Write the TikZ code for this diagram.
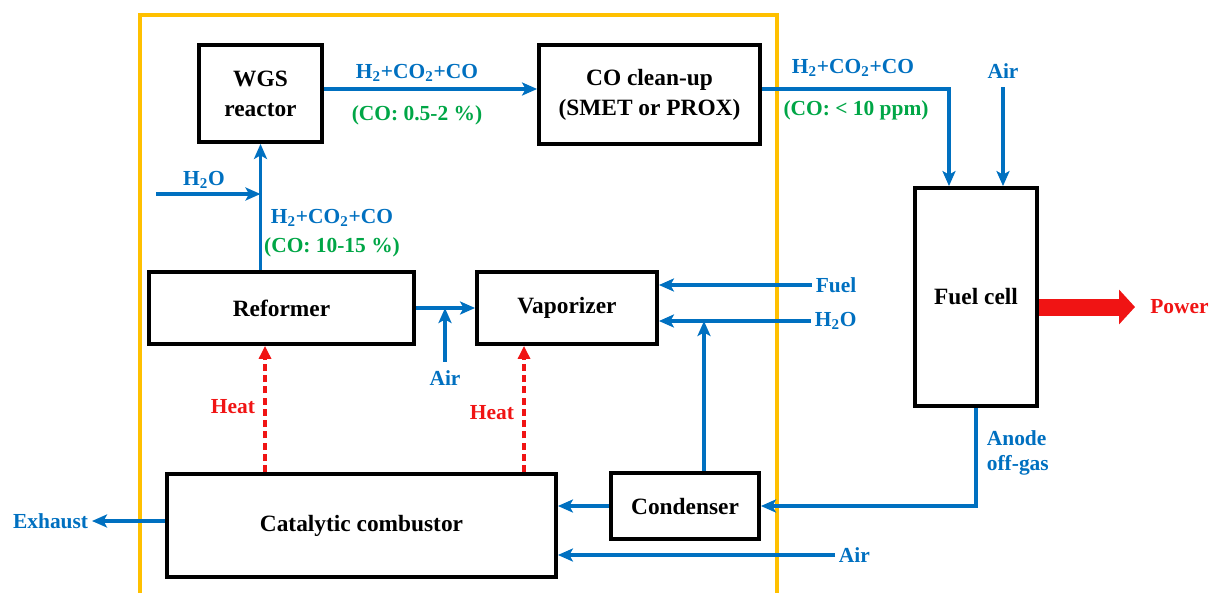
\documentclass[tikz,border=0pt]{standalone}
\usepackage{fontspec}
\setmainfont{Liberation Serif}
\usetikzlibrary{arrows.meta}
\definecolor{flowblue}{RGB}{0,112,192}
\definecolor{notegreen}{RGB}{0,166,70}
\definecolor{heatred}{RGB}{240,20,20}
\definecolor{frameorange}{RGB}{255,192,0}

\begin{document}
\begin{tikzpicture}[
    x=0.02cm, y=-0.02cm,
    unit/.style={rectangle, draw, line width=2.2pt, align=center, font=\fontsize{13.3}{17}\selectfont\bfseries, inner sep=0pt},
    flow/.style={draw=flowblue, line width=2pt, -{Stealth[length=0.3cm, width=0.26cm, inset=0.07cm]}},
    heat/.style={draw=heatred, line width=1.8pt, dash pattern=on 4pt off 2.4pt, -{Triangle[length=0.26cm, width=0.24cm]}},
    lbl/.style={font=\fontsize{12.2}{14.5}\selectfont\bfseries, text=flowblue, inner sep=2pt},
    note/.style={lbl, text=notegreen},
    hot/.style={lbl, text=heatred}
]
    \useasboundingbox (0,0) rectangle (1217,592);
    \draw [frameorange, line width=1.9pt] (140,600) -- (140,15) -- (777,15) -- (777,600);

    % units
    \node [unit, minimum width=2.46cm, minimum height=1.94cm] (wgs) at (260.5,93.5) {WGS\\reactor};
    \node [unit, minimum width=4.42cm, minimum height=1.98cm] (clean) at (649.5,94.5) {CO clean-up\\(SMET or PROX)};
    \node [unit, minimum width=5.3cm, minimum height=1.44cm] (reformer) at (281.5,308) {Reformer};
    \node [unit, minimum width=3.6cm, minimum height=1.44cm] (vapor) at (567,308) {Vaporizer};
    \node [unit, minimum width=7.78cm, minimum height=2.06cm] (comb) at (361.5,525.5) {Catalytic combustor};
    \node [unit, minimum width=2.96cm, minimum height=1.32cm] (cond) at (685,506) {Condenser};
    \node [unit, minimum width=2.44cm, minimum height=4.36cm] (fc) at (976,297) {Fuel cell};

    % labels
    \node [lbl] at (417,73) {H\textsubscript{2}+CO\textsubscript{2}+CO};
    \node [note] at (417,115) {(CO: 0.5-2 \%)};
    \node [lbl] at (853,68) {H\textsubscript{2}+CO\textsubscript{2}+CO};
    \node [note] at (856,110) {(CO: < 10 ppm)};
    \node [lbl] at (332,218) {H\textsubscript{2}+CO\textsubscript{2}+CO};
    \node [note] at (332,247) {(CO: 10-15 \%)};
    \node [lbl] at (204,180) {H\textsubscript{2}O};
    \node [lbl, align=left, anchor=west] at (983,453) {Anode\\off-gas};
    \node [hot] at (233,407) {Heat};
    \node [hot] at (492,413) {Heat};

    % feed and product ends
    \coordinate (h2oA) at (156,194);
    \node [lbl] (airfc) at (1003,71) {Air};
    \node [lbl] (airref) at (445,378) {Air};
    \node [lbl, anchor=west] (fuel) at (812,285) {Fuel};
    \node [lbl, anchor=west] (h2oB) at (811,321) {H\textsubscript{2}O};
    \node [lbl, anchor=west] (aircomb) at (835,555) {Air};
    \node [lbl, anchor=east] (exhaust) at (92,521) {Exhaust};
    \node [hot, anchor=west, inner sep=0pt] (power) at (1150,307) {Power};

    % streams
    \draw [flow] (wgs.south |- reformer.north) -- (wgs.south);
    \draw [flow] (h2oA) -- (h2oA -| wgs.south);
    \draw [flow] ([yshift=0.09cm]wgs.east) -- ([yshift=0.09cm]wgs.east -| clean.west);
    \draw [flow] ([yshift=0.11cm]clean.east) -| ([xshift=-0.54cm]fc.north);
    \draw [flow, shorten <=0.1cm] (airfc.south) -- (airfc.south |- fc.north);
    \draw [flow] (reformer.east) -- (vapor.west);
    \draw [flow, shorten <=0.1cm] (airref.north) -- (airref.north |- reformer.east);
    \draw [flow] (fuel.west) -- (fuel.west -| vapor.east);
    \draw [flow] (h2oB.west) -- (h2oB.west -| vapor.east);
    \draw [flow] ([xshift=0.38cm]cond.north) -- ([xshift=0.38cm]cond.north |- h2oB.west);
    \draw [flow] (fc.south) |- (cond.east);
    \draw [flow] (cond.west) -- (cond.west -| comb.east);
    \draw [flow] (aircomb.west) -- (aircomb.west -| comb.east);
    \draw [flow] (comb.west |- exhaust.east) -- (exhaust.east);

    % heat supply
    \draw [heat] ([xshift=-0.33cm]reformer.south |- comb.north) -- ([xshift=-0.33cm]reformer.south);
    \draw [heat] ([xshift=-0.86cm]vapor.south |- comb.north) -- ([xshift=-0.86cm]vapor.south);

    % power output
    \draw [heatred, line width=0.34cm, -{Triangle[length=0.32cm, width=0.68cm]}] (fc.east |- power.west) -- ([xshift=-0.3cm]power.west);
\end{tikzpicture}
\end{document}
